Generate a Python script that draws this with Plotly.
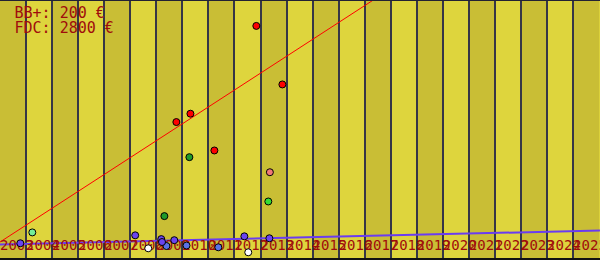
import plotly.graph_objects as go

# ---------------- data ----------------
years = list(range(2003, 2026))
year_labels = [str(y) for y in years]

legend_lines = ["BB+: 200 €", "FDC: 2800 €"]

red_years = [2012.84, 2013.84, 2009.77, 2010.31, 2011.23]
red_prices = [2800, 2100, 1650, 1750, 1310]

darkgreen_years = [2010.27, 2009.31]
darkgreen_prices = [1230, 525]

green_years = [2013.30]
green_prices = [700]

pink_years = [2013.36]
pink_prices = [1050]

mint_years = [2004.24]
mint_prices = [330]

purple_years = [2003.78, 2008.19, 2009.19, 2009.22, 2009.69, 2012.38, 2013.34]
purple_prices = [200, 295, 250, 215, 237, 283, 260]

blue_years = [2009.39, 2010.16, 2011.38]
blue_prices = [167, 173, 152]

white_years = [2008.69, 2012.53]
white_prices = [140, 92]

fdc_trend_years = [2003, 2026.03]
fdc_trend_prices = [215, 4867]

bb_trend_years = [2003, 2026.03]
bb_trend_prices = [185, 353]

# ---------------- layout helpers ----------------
W, H = 600, 260
PX_PER_YEAR = 26.05
X0 = 2003
Y_MAX = 3110


def px_year(px):
    return X0 + px / PX_PER_YEAR


def px_val(py):
    return (H - py) * Y_MAX / H


FONT = "DejaVu Sans Mono"
FS_TOP = 15
FS_AXIS = 14
TEXT_COLOR = "#a00c0c"
LIGHT = "#ded53d"
DARK = "#c9be35"
GRID = "#363646"

fig = go.Figure()

# trend lines
fig.add_trace(go.Scatter(x=fdc_trend_years, y=fdc_trend_prices, mode="lines",
                         line=dict(color="#ff0000", width=1), hoverinfo="skip"))
fig.add_trace(go.Scatter(x=bb_trend_years, y=bb_trend_prices, mode="lines",
                         line=dict(color="#6a3cf0", width=2), hoverinfo="skip"))

# year labels (drawn under markers)
label_y = px_val(249.5 - 0.25 * FS_AXIS)
fig.add_trace(go.Scatter(x=years, y=[label_y] * len(years), mode="text",
                         text=year_labels, textposition="middle right",
                         textfont=dict(family=FONT, size=FS_AXIS, color=TEXT_COLOR),
                         hoverinfo="skip"))

# legend text
fig.add_trace(go.Scatter(x=[px_year(14.5)] * 2,
                         y=[px_val(17.7 - 0.25 * FS_TOP), px_val(32.7 - 0.25 * FS_TOP)],
                         mode="text", text=legend_lines, textposition="middle right",
                         textfont=dict(family=FONT, size=FS_TOP, color=TEXT_COLOR),
                         hoverinfo="skip", cliponaxis=False))

series = [
    (white_years, white_prices, "#ffffff"),
    (blue_years, blue_prices, "#5a72e8"),
    (purple_years, purple_prices, "#6a44f0"),
    (mint_years, mint_prices, "#74ee98"),
    (darkgreen_years, darkgreen_prices, "#1f9a2a"),
    (green_years, green_prices, "#33dd33"),
    (pink_years, pink_prices, "#f07878"),
    (red_years, red_prices, "#ff0000"),
]
for xs, ys, col in series:
    fig.add_trace(go.Scatter(x=xs, y=ys, mode="markers",
                             marker=dict(size=7, color=col,
                                         line=dict(color="#000000", width=1)),
                             hoverinfo="skip"))

shapes = []
for i, yr in enumerate(years):
    shapes.append(dict(type="rect", xref="x", yref="paper", x0=yr, x1=yr + 1,
                       y0=0, y1=1, fillcolor=DARK if i % 2 == 0 else LIGHT,
                       line=dict(width=0), layer="below"))
shapes.append(dict(type="line", xref="paper", yref="paper", x0=0, x1=1, y0=0, y1=0,
                   line=dict(color="#111111", width=4), layer="above"))
shapes.append(dict(type="line", xref="paper", yref="paper", x0=0, x1=1, y0=1, y1=1,
                   line=dict(color="#222233", width=2), layer="above"))

fig.update_layout(
    width=W, height=H, margin=dict(l=0, r=0, t=0, b=0, pad=0),
    showlegend=False, paper_bgcolor=LIGHT, plot_bgcolor=LIGHT,
    shapes=shapes,
    xaxis=dict(range=[X0, px_year(W)], tickmode="linear", tick0=X0, dtick=1,
               showgrid=True, gridcolor=GRID, gridwidth=1.6, showticklabels=False,
               zeroline=False, showline=False, ticks="", fixedrange=True),
    yaxis=dict(range=[0, Y_MAX], showgrid=False, showticklabels=False,
               zeroline=False, showline=False, ticks="", fixedrange=True),
)

fig.write_html("out.html")
